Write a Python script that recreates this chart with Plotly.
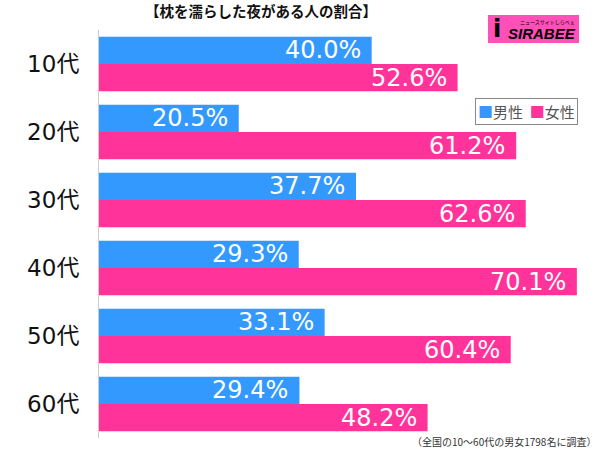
import plotly.graph_objects as go

categories = ["10代", "20代", "30代", "40代", "50代", "60代"]
male = [40.0, 20.5, 37.7, 29.3, 33.1, 29.4]
female = [52.6, 61.2, 62.6, 70.1, 60.4, 48.2]
series_names = ["男性", "女性"]
title_text = "【枕を濡らした夜がある人の割合】"
note_text = "（全国の10～60代の男女1798名に調査）"

BLUE = "#3399ff"
PINK = "#ff3399"
FONT = "DejaVu Sans, Noto Sans CJK JP, sans-serif"
CJK = "Noto Sans CJK JP, sans-serif"

W, H = 600, 449
L, R, T, B = 99, 2, 30, 11
pw, ph = W - L - R, H - T - B


def px(x):
    return (x - L) / pw


def py(y):
    return 1 - (y - T) / ph


fig = go.Figure()
fig.add_trace(go.Bar(y=categories, x=male, name=series_names[0], orientation="h",
                     marker=dict(color=BLUE, line=dict(width=0)), hoverinfo="skip"))
fig.add_trace(go.Bar(y=categories, x=female, name=series_names[1], orientation="h",
                     marker=dict(color=PINK, line=dict(width=0)), hoverinfo="skip"))

annotations = []
for i, c in enumerate(categories):
    for vals, off in ((male, -0.2), (female, 0.2)):
        annotations.append(dict(
            x=vals[i], y=i + off, xref="x", yref="y", text=f"{vals[i]:.1f}%",
            showarrow=False, xanchor="right", yanchor="middle", xshift=-9,
            font=dict(family=FONT, size=24, color="white")))

# title
annotations.append(dict(x=px(261), y=py(11), xref="paper", yref="paper",
                        text="<b>" + title_text + "</b>", showarrow=False,
                        xanchor="center", yanchor="middle",
                        font=dict(family=CJK, size=14.5, color="#111")))
# footnote
annotations.append(dict(x=px(598), y=py(441.5), xref="paper", yref="paper", text=note_text,
                        showarrow=False, xanchor="right", yanchor="middle",
                        font=dict(family=CJK, size=10, color="#333")))
# legend box (manual)
annotations.append(dict(x=px(526), y=py(111.5), xref="paper", yref="paper",
                        text=f"<span style='color:{BLUE}'>■</span>{series_names[0]}  "
                             f"<span style='color:{PINK}'>■</span>{series_names[1]}",
                        showarrow=False, xanchor="center", yanchor="middle",
                        bordercolor="#888", borderwidth=1, borderpad=2, bgcolor="white",
                        font=dict(family=CJK, size=15, color="#555")))

# logo
lx0, lx1, ly0, ly1 = 488, 579, 15, 43
fig.add_shape(type="rect", xref="paper", yref="paper",
              x0=px(lx0), x1=px(lx1), y0=py(ly1), y1=py(ly0),
              fillcolor="#ff4fb8", line=dict(width=0), layer="above")
annotations.append(dict(x=px(lx1 - 1), y=py(34), xref="paper", yref="paper",
                        text="<b><i>SIRABEE</i></b>", showarrow=False, xanchor="right",
                        yanchor="middle", font=dict(family="Liberation Sans", size=15, color="black")))
annotations.append(dict(x=px(lx1 - 2), y=py(22), xref="paper", yref="paper",
                        text="ニュースサイトしらべぇ", showarrow=False, xanchor="right",
                        yanchor="middle", font=dict(family=CJK, size=5, color="black")))
annotations.append(dict(x=px(lx0 + 9), y=py(29), xref="paper", yref="paper",
                        text="<b>i</b>", showarrow=False, xanchor="center",
                        yanchor="middle", font=dict(family="DejaVu Sans", size=24, color="black")))

fig.update_layout(
    width=W, height=H,
    margin=dict(l=L, r=R, t=T, b=B, autoexpand=False),
    paper_bgcolor="white", plot_bgcolor="white",
    barmode="group", bargap=0.2, bargroupgap=0,
    showlegend=False,
    xaxis=dict(range=[0, 73.2], visible=False, fixedrange=True),
    yaxis=dict(autorange="reversed", showline=True, linecolor="#ccc", linewidth=1,
               showgrid=False, ticks="", ticklabelstandoff=14, automargin=False,
               tickfont=dict(family=FONT, size=23, color="#111")),
    annotations=annotations,
)

fig.write_html("out.html", config={"displayModeBar": False},
               post_script="document.body.style.margin='0';")
